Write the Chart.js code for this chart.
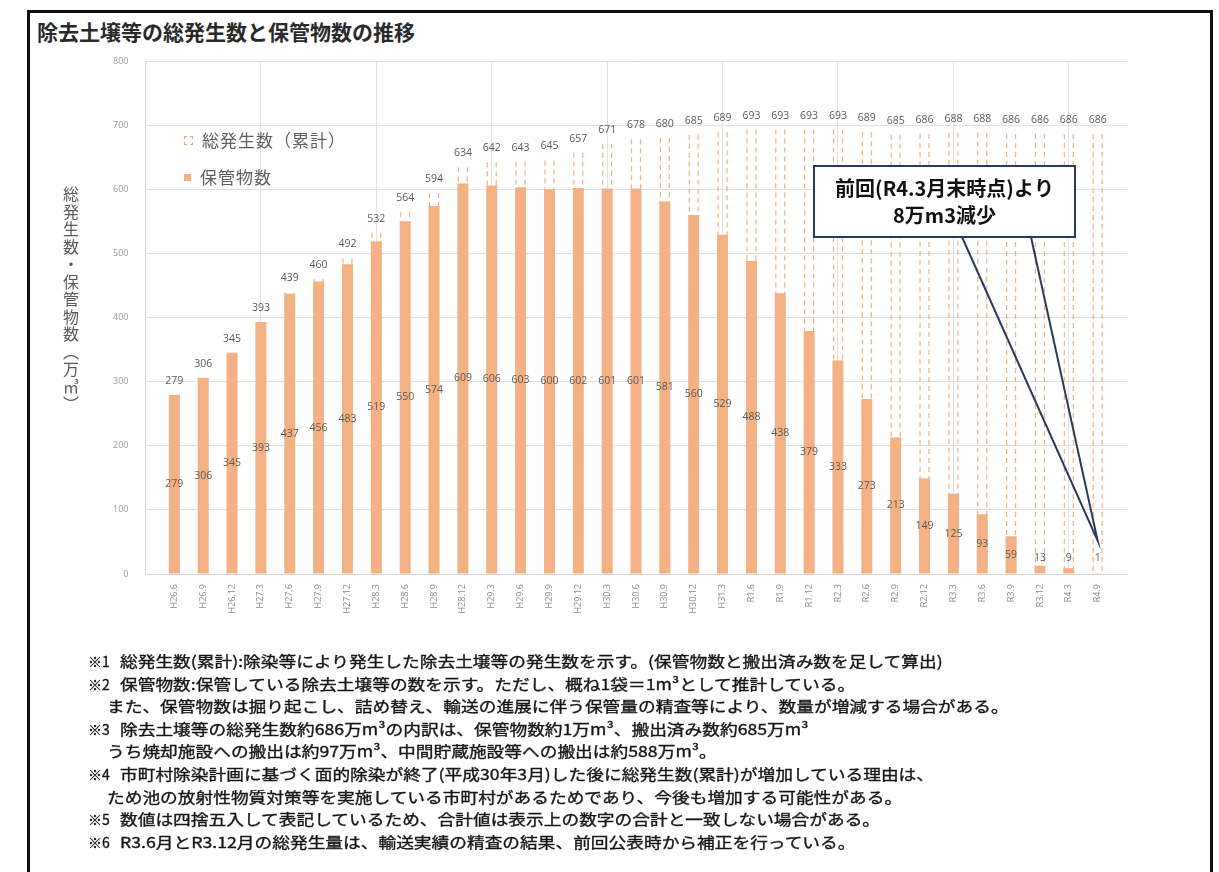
<!DOCTYPE html>
<html lang="ja">
<head>
<meta charset="utf-8">
<script src="https://cdn.jsdelivr.net/npm/chart.js@4/dist/chart.umd.min.js"></script>
<style>
  html, body { margin:0; padding:0; background:#fff; }
  body { width:1219px; height:872px; position:relative; overflow:hidden;
         font-family:"Noto Sans CJK JP","Noto Sans",sans-serif; }
  #frame { position:absolute; left:27px; top:10px; width:1186px; height:900px;
           border:3px solid #111; box-sizing:border-box; }
  #title { position:absolute; left:37px; top:16px; font-size:21px; font-weight:bold; color:#2a2a2a; white-space:nowrap; }
  #c { position:absolute; left:0; top:0; }
  #ytitle { position:absolute; left:59px; top:186px; writing-mode:vertical-rl; font-size:16px;
            letter-spacing:1.5px; color:#5a5a5a; white-space:nowrap; }
  .leg { position:absolute; left:184px; font-size:17px; letter-spacing:1px; color:#5f5f5f; white-space:nowrap; }
  .leg i { display:inline-block; width:7px; height:7px; margin-right:9px; vertical-align:middle; position:relative; top:-2px; }
  #notes { position:absolute; left:0; top:650px; font-size:15px; color:#161616; -webkit-text-stroke:0.35px #161616; }
  #notes div { position:absolute; white-space:nowrap; height:22px; line-height:22px; }
  #notes span { position:absolute; top:0; transform:scaleX(1.18); transform-origin:0 50%; }
  #notes span.m { transform:none; font-size:14px; }
</style>
</head>
<body>
<div id="frame"></div>
<div id="title">除去土壌等の総発生数と保管物数の推移</div>
<canvas id="c" width="1219" height="872"></canvas>
<div id="ytitle">総発生数・保管物数（万㎥）</div>
<div class="leg" style="top:127px;"><i style="border:1px dashed #E9A872;"></i>総発生数（累計）</div>
<div class="leg" style="top:164px;"><i style="background:#F4B183;"></i>保管物数</div>
<div id="notes"></div>

<script>
// ---- data ----
const categories = ['H26.6','H26.9','H26.12','H27.3','H27.6','H27.9','H27.12','H28.3','H28.6','H28.9',
  'H28.12','H29.3','H29.6','H29.9','H29.12','H30.3','H30.6','H30.9','H30.12','H31.3',
  'R1.6','R1.9','R1.12','R2.3','R2.6','R2.9','R2.12','R3.3','R3.6','R3.9','R3.12','R4.3','R4.9'];
const totalValues = [279,306,345,393,439,460,492,532,564,594,634,642,643,645,657,671,678,680,685,689,
  693,693,693,693,689,685,686,688,688,686,686,686,686];
const storageValues = [279,306,345,393,437,456,483,519,550,574,609,606,603,600,602,601,601,581,560,529,
  488,438,379,333,273,213,149,125,93,59,13,9,1];
const yMin = 0, yMax = 800, yStep = 100;
const calloutLines = ['前回(R4.3月末時点)より', '8万m3減少'];
const calloutTipValue = 52;

const notes = [
  ['※1', '総発生数(累計):除染等により発生した除去土壌等の発生数を示す。(保管物数と搬出済み数を足して算出)'],
  ['※2', '保管物数:保管している除去土壌等の数を示す。ただし、概ね1袋＝1m³として推計している。'],
  ['', 'また、保管物数は掘り起こし、詰め替え、輸送の進展に伴う保管量の精査等により、数量が増減する場合がある。'],
  ['※3', '除去土壌等の総発生数約686万m³の内訳は、保管物数約1万m³、搬出済み数約685万m³'],
  ['', 'うち焼却施設への搬出は約97万m³、中間貯蔵施設等への搬出は約588万m³。'],
  ['※4', '市町村除染計画に基づく面的除染が終了(平成30年3月)した後に総発生数(累計)が増加している理由は、'],
  ['', 'ため池の放射性物質対策等を実施している市町村があるためであり、今後も増加する可能性がある。'],
  ['※5', '数値は四捨五入して表記しているため、合計値は表示上の数字の合計と一致しない場合がある。'],
  ['※6', 'R3.6月とR3.12月の総発生量は、輸送実績の精査の結果、前回公表時から補正を行っている。']
];

// ---- footnotes ----
const notesEl = document.getElementById('notes');
notes.forEach((n, i) => {
  const d = document.createElement('div');
  d.style.top = (i * 22.6) + 'px';
  d.style.left = '88px';
  if (n[0]) {
    d.innerHTML = '<span class="m" style="left:0">' + n[0] + '</span><span style="left:32px">' + n[1] + '</span>';
  } else {
    d.innerHTML = '<span style="left:19px">' + n[1] + '</span>';
  }
  notesEl.appendChild(d);
});

// ---- chart ----
const labels = [''].concat(categories, ['']);
const pad = a => [null].concat(a, [null]);
const totalPadded = pad(totalValues);
const storagePadded = pad(storageValues);
const FONT = '"Open Sans","Liberation Sans",sans-serif';

const dashPlugin = {
  id: 'dashTotals',
  beforeDatasetsDraw(chart) {
    const meta = chart.getDatasetMeta(1);
    const c = chart.ctx;
    c.save();
    c.strokeStyle = '#F0B282';
    c.lineWidth = 1.2;
    c.setLineDash([5, 4]);
    meta.data.forEach((el, i) => {
      if (totalPadded[i] == null) return;
      const p = el.getProps(['x', 'y', 'base', 'width'], true);
      const l = p.x - p.width / 2 + 1, r = p.x + p.width / 2 - 1;
      c.beginPath();
      c.moveTo(l, p.y); c.lineTo(l, p.base);
      c.moveTo(r, p.y); c.lineTo(r, p.base);
      c.stroke();
    });
    c.restore();
  }
};

const labelPlugin = {
  id: 'valueLabels',
  afterDatasetsDraw(chart) {
    const c = chart.ctx;
    c.save();
    c.font = '10.5px ' + FONT;
    c.fillStyle = '#5a5a5a';
    c.textAlign = 'center';
    c.textBaseline = 'middle';
    chart.getDatasetMeta(1).data.forEach((el, i) => {
      if (totalPadded[i] == null) return;
      const p = el.getProps(['x', 'y'], true);
      c.fillText(String(totalPadded[i]), p.x, p.y - 14);
    });
    chart.getDatasetMeta(0).data.forEach((el, i) => {
      if (storagePadded[i] == null) return;
      const p = el.getProps(['x', 'y', 'base'], true);
      const yy = Math.min((p.y + p.base) / 2, p.base - 15);
      c.fillText(String(storagePadded[i]), p.x, yy);
    });
    c.restore();
  }
};

const calloutPlugin = {
  id: 'callout',
  afterDraw(chart) {
    const c = chart.ctx;
    const xs = chart.scales.x, ys = chart.scales.y;
    const tipX = xs.getPixelForValue(categories.length);
    const tipY = ys.getPixelForValue(calloutTipValue);
    const bx = 814, by = 166, bw = 261, bh = 71;
    c.save();
    c.strokeStyle = '#2a3a5e';
    c.lineWidth = 2;
    c.beginPath();
    c.moveTo(962, by + bh); c.lineTo(tipX, tipY); c.lineTo(1031, by + bh);
    c.stroke();
    c.fillStyle = '#fff';
    c.fillRect(bx, by, bw, bh);
    c.strokeStyle = '#2a3a5e';
    c.strokeRect(bx, by, bw, bh);
    c.fillStyle = '#111';
    c.font = 'bold 20px "Noto Sans CJK JP",sans-serif';
    c.textAlign = 'center';
    c.textBaseline = 'middle';
    c.fillText(calloutLines[0], bx + bw / 2, by + 22);
    c.fillText(calloutLines[1], bx + bw / 2, by + 49);
    c.restore();
  }
};

new Chart(document.getElementById('c'), {
  type: 'bar',
  data: {
    labels: labels,
    datasets: [
      { label: '保管物数', data: storagePadded, backgroundColor: '#F4B183', borderWidth: 0,
        barPercentage: 0.38, categoryPercentage: 1 },
      { label: '総発生数（累計）', data: totalPadded, backgroundColor: 'rgba(0,0,0,0)', borderWidth: 0,
        barPercentage: 0.38, categoryPercentage: 1 }
    ]
  },
  options: {
    responsive: false,
    animation: false,
    devicePixelRatio: 1,
    layout: { padding: { left: 80, right: 92.5, top: 61, bottom: 238 } },
    plugins: { legend: { display: false }, tooltip: { enabled: false } },
    scales: {
      x: {
        stacked: true,
        offset: false,
        grid: { offset: false, drawTicks: false,
                color: ctx => (ctx.index % 4 === 0) ? '#e3e3e3' : 'rgba(0,0,0,0)' },
        border: { color: '#d6d6d6' },
        ticks: { autoSkip: false, minRotation: 90, maxRotation: 90, padding: 10,
                 color: '#8a8a8a', font: { size: 9, family: FONT } },
        afterFit: s => { s.height = 60; }
      },
      y: {
        stacked: false,
        min: yMin, max: yMax,
        ticks: { stepSize: yStep, padding: 17, color: '#9a9a9a', font: { size: 9, family: FONT } },
        grid: { color: '#e0e0e0', drawTicks: false },
        border: { color: '#d6d6d6' },
        afterFit: s => { s.width = 65.5; }
      }
    }
  },
  plugins: [dashPlugin, labelPlugin, calloutPlugin]
});
</script>
</body>
</html>
